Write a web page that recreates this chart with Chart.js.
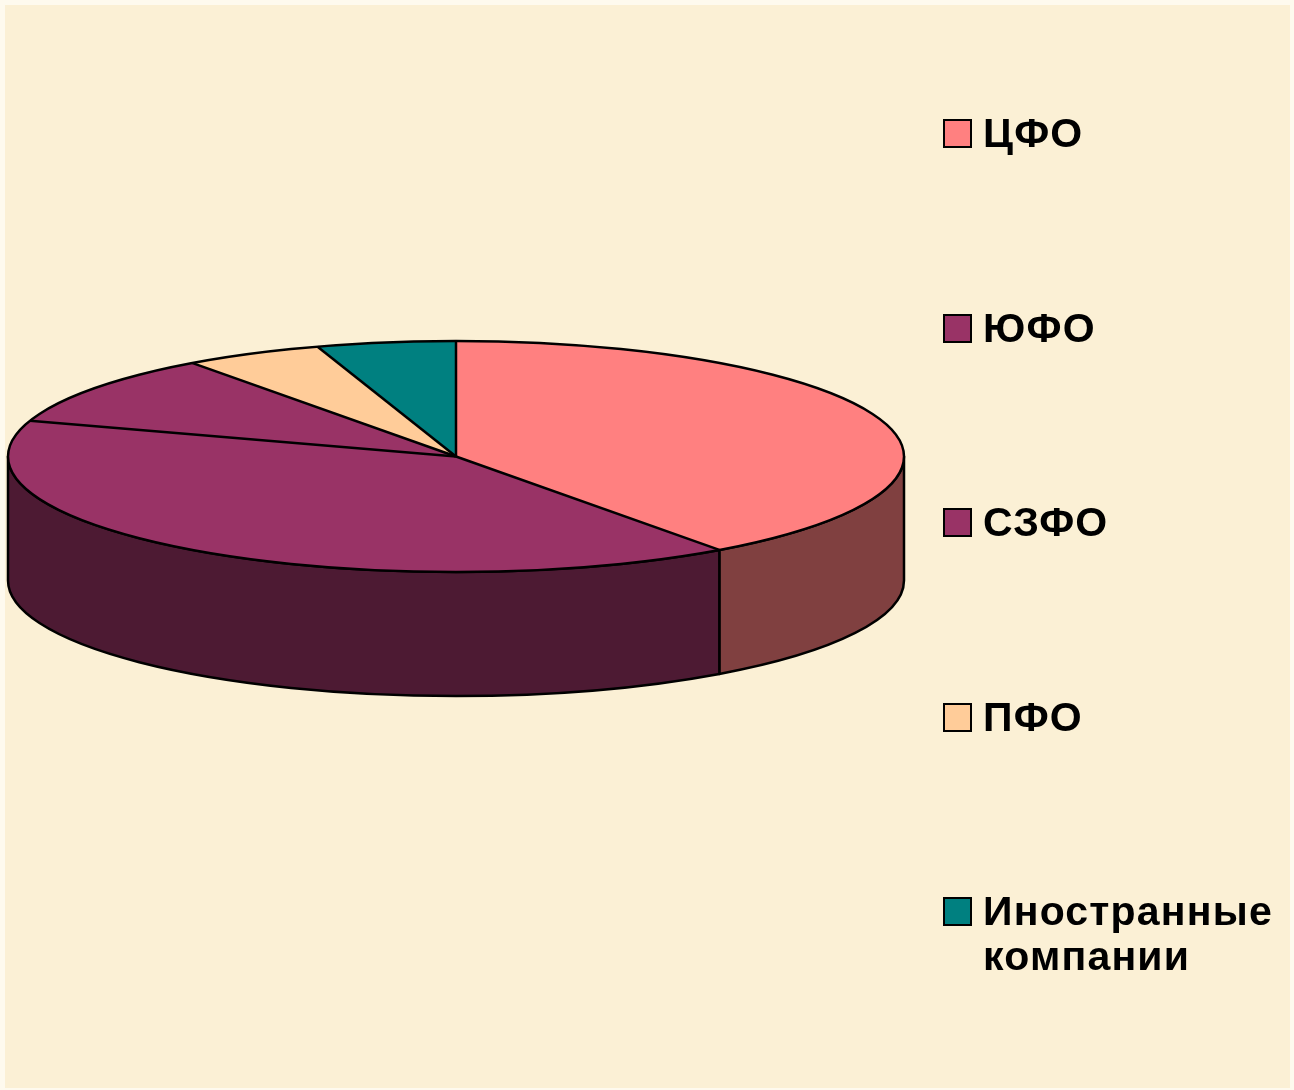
<!DOCTYPE html>
<html><head><meta charset="utf-8">
<script src="https://cdn.jsdelivr.net/npm/chart.js@4/dist/chart.umd.min.js"></script>
<style>
html,body{margin:0;padding:0;width:1294px;height:1090px;overflow:hidden;background:#fefaee;}
#frame{position:absolute;left:5px;top:5px;width:1285px;height:1083px;background:#fbf0d5;}
#c{position:absolute;left:0;top:0;z-index:1;}
#legend{position:absolute;left:0;top:0;z-index:2;}
.leg{position:absolute;left:943px;width:350px;font:bold 41px "Liberation Sans",Arial,sans-serif;letter-spacing:1.2px;line-height:45px;color:#000;}
.sw{position:absolute;left:0;top:8px;width:25px;height:25px;border:2px solid #000;}
.tx{position:absolute;left:40px;top:0;width:310px;}
</style></head>
<body>
<div id="frame"></div>
<canvas id="c" width="1294" height="1090"></canvas>
<div id="legend"></div>
<script>
// ---- data ----
const labels = ['ЦФО', 'ЮФО', 'СЗФО', 'ПФО', 'Иностранные компании'];
const shares = [40, 40, 10, 5, 5];
const topColors = ['#FF8080', '#993366', '#993366', '#FFCC99', '#008080'];
const sideColors = ['#804040', '#4D1A33', '#4D1A33', '#806650', '#004040'];

// ---- layout ----
const CX = 456, CY = 456.5, RX = 448, RY = 115.5, DEPTH = 124;
const LEG_TOP = 111, LEG_STEP = 194.5;

const pie3d = {
  id: 'pie3d',
  beforeDatasetsDraw(chart) {
    const ctx = chart.ctx;
    const arcs = chart.getDatasetMeta(0).data;
    ctx.save();
    ctx.lineWidth = 2.5;
    ctx.strokeStyle = '#000';
    ctx.lineJoin = 'round';
    arcs.forEach((a, i) => {
      const p = a.getProps(['startAngle', 'endAngle'], true);
      for (const k of [-1, 0, 1]) {
        const s = Math.max(p.startAngle + 2 * Math.PI * k, 0);
        const e = Math.min(p.endAngle + 2 * Math.PI * k, Math.PI);
        if (e > s) {
          ctx.beginPath();
          ctx.ellipse(CX, CY, RX, RY, 0, s, e, false);
          ctx.lineTo(CX + RX * Math.cos(e), CY + RY * Math.sin(e) + DEPTH);
          ctx.ellipse(CX, CY + DEPTH, RX, RY, 0, e, s, true);
          ctx.closePath();
          ctx.fillStyle = sideColors[i];
          ctx.fill();
          ctx.stroke();
        }
      }
    });
    ctx.restore();
    const a0 = arcs[0];
    const r = a0.outerRadius;
    ctx.save();
    ctx.translate(CX, CY);
    ctx.scale(RX / r, RY / r);
    ctx.translate(-a0.x, -a0.y);
  },
  afterDatasetsDraw(chart) {
    const ctx = chart.ctx;
    ctx.restore();
    const arcs = chart.getDatasetMeta(0).data;
    ctx.save();
    ctx.lineWidth = 2.5;
    ctx.strokeStyle = '#000';
    ctx.lineJoin = 'round';
    ctx.beginPath();
    ctx.ellipse(CX, CY, RX, RY, 0, 0, 2 * Math.PI);
    ctx.stroke();
    arcs.forEach(a => {
      const p = a.getProps(['startAngle'], true);
      ctx.beginPath();
      ctx.moveTo(CX, CY);
      ctx.lineTo(CX + RX * Math.cos(p.startAngle), CY + RY * Math.sin(p.startAngle));
      ctx.stroke();
    });
    ctx.restore();
  }
};

new Chart(document.getElementById('c'), {
  type: 'pie',
  data: {
    labels: labels,
    datasets: [{
      data: shares,
      backgroundColor: topColors,
      borderWidth: 0,
      clip: false
    }]
  },
  options: {
    responsive: false,
    animation: false,
    events: [],
    layout: { padding: 0 },
    plugins: { legend: { display: false }, tooltip: { enabled: false } }
  },
  plugins: [pie3d]
});

// HTML legend built from the same arrays
const legend = document.getElementById('legend');
labels.forEach((lab, i) => {
  const item = document.createElement('div');
  item.className = 'leg';
  item.style.top = Math.round(LEG_TOP + i * LEG_STEP) + 'px';
  const sw = document.createElement('div');
  sw.className = 'sw';
  sw.style.background = topColors[i];
  const tx = document.createElement('div');
  tx.className = 'tx';
  tx.textContent = lab;
  item.appendChild(sw);
  item.appendChild(tx);
  legend.appendChild(item);
});
</script>
</body></html>
